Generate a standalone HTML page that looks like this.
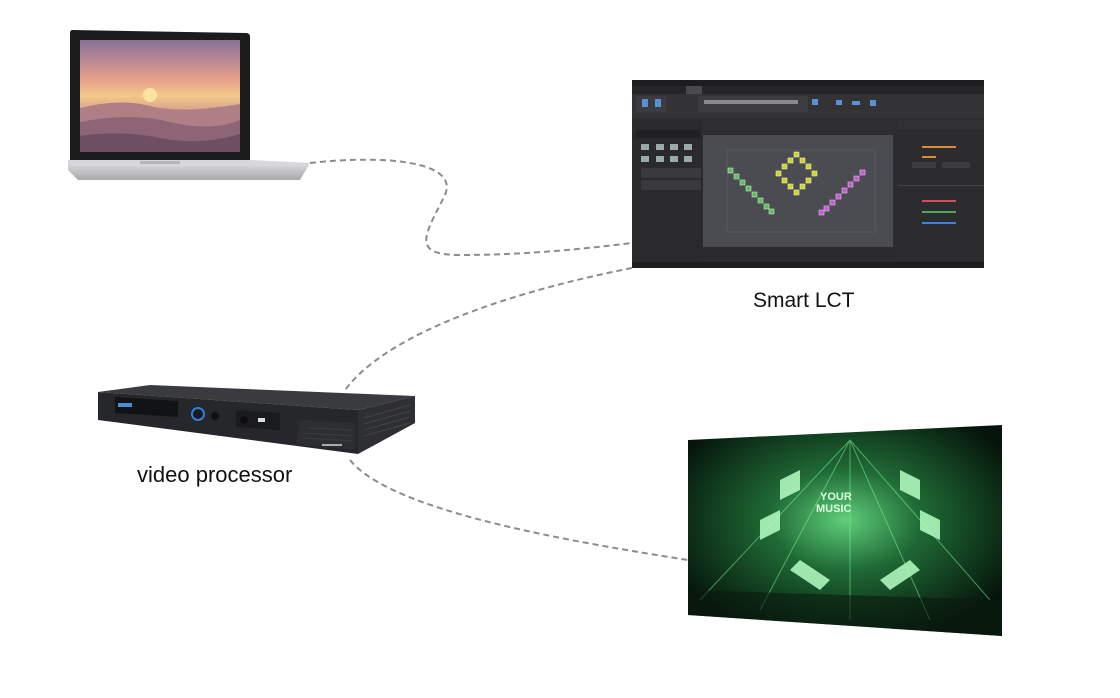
<!DOCTYPE html>
<html><head><meta charset="utf-8"><style>
html,body{margin:0;padding:0;background:#fff;width:1120px;height:698px;overflow:hidden}
svg{display:block}
text{font-family:"Liberation Sans","Noto Sans CJK SC",sans-serif}
</style></head><body>
<svg width="1120" height="698" viewBox="0 0 1120 698" xmlns="http://www.w3.org/2000/svg">
<defs>
<linearGradient id="sky" x1="0" y1="0" x2="0" y2="1">
<stop offset="0" stop-color="#8a6f9a"/><stop offset="0.35" stop-color="#e6a08a"/><stop offset="0.5" stop-color="#f4c98a"/><stop offset="0.65" stop-color="#d49a8e"/><stop offset="1" stop-color="#7a5a70"/>
</linearGradient>
<linearGradient id="base" x1="0" y1="0" x2="0" y2="1">
<stop offset="0" stop-color="#e4e4e6"/><stop offset="1" stop-color="#a8a8ac"/>
</linearGradient>
<radialGradient id="stage" cx="0.5" cy="0.45" r="0.6">
<stop offset="0" stop-color="#5fcf7a"/><stop offset="0.4" stop-color="#1f6a35"/><stop offset="1" stop-color="#06150b"/>
</radialGradient>
</defs>

<!-- dashed connectors -->
<g fill="none" stroke="#8c8c8c" stroke-width="2" stroke-dasharray="6,4">
<path d="M310,163 C380,155 460,160 445,195 C425,235 410,255 460,255 C530,255 590,248 632,243"/>
<path d="M632,268 C520,290 390,330 345,390"/>
<path d="M350,460 C390,510 560,540 688,560"/>
</g>

<!-- laptop -->
<path d="M72,30 L246,33 Q250,33 250,37 L250,160 L70,160 L70,34 Q70,30 72,30 Z" fill="#1c1c1e"/>
<rect x="80" y="40" width="160" height="112" fill="url(#sky)"/>
<circle cx="150" cy="95" r="7" fill="#fde3a0"/>
<path d="M80,108 Q120,98 150,106 T240,104 L240,152 L80,152 Z" fill="#b07f86"/>
<path d="M80,122 Q130,112 170,122 T240,120 L240,152 L80,152 Z" fill="#8d6577"/>
<path d="M80,136 Q120,130 160,138 T240,134 L240,152 L80,152 Z" fill="#6e4f62"/>
<path d="M68,160 L250,160 L310,163 L300,180 L78,180 L68,170 Z" fill="url(#base)"/>
<path d="M68,160 L250,160 L310,163 L305,166 L70,166 Z" fill="#d8d8db"/>
<rect x="140" y="161" width="40" height="3" fill="#b5b5b8"/>

<!-- software window -->
<rect x="632" y="80" width="352" height="188" fill="#2c2c2e"/>
<rect x="632" y="80" width="352" height="6" fill="#1d1d1f"/>
<rect x="632" y="86" width="352" height="8" fill="#252527"/>
<rect x="686" y="86" width="16" height="8" fill="#4a4a4e"/>
<rect x="632" y="94" width="352" height="24" fill="#333336"/>
<rect x="636" y="96" width="30" height="16" fill="#3c3c40"/>
<rect x="698" y="96" width="110" height="16" fill="#3c3c40"/>
<g fill="#5b8fd6"><rect x="642" y="99" width="6" height="8"/><rect x="655" y="99" width="6" height="8"/><rect x="812" y="99" width="6" height="6"/><rect x="836" y="100" width="6" height="5"/><rect x="852" y="101" width="8" height="4"/><rect x="870" y="100" width="6" height="6"/></g>
<g fill="#8a8a8e"><rect x="704" y="100" width="94" height="4"/></g>
<rect x="632" y="120" width="70" height="142" fill="#2a2a2c"/>
<rect x="636" y="130" width="64" height="8" fill="#202022"/>
<g fill="#9aa"><rect x="641" y="144" width="8" height="6"/><rect x="656" y="144" width="8" height="6"/><rect x="670" y="144" width="8" height="6"/><rect x="684" y="144" width="8" height="6"/><rect x="641" y="156" width="8" height="6"/><rect x="656" y="156" width="8" height="6"/><rect x="670" y="156" width="8" height="6"/><rect x="684" y="156" width="8" height="6"/></g>
<rect x="641" y="168" width="60" height="10" fill="#3a3a3d"/>
<rect x="641" y="180" width="60" height="10" fill="#3a3a3d"/>
<rect x="703" y="120" width="194" height="14" fill="#2f2f32"/>
<rect x="703" y="135" width="190" height="112" fill="#4b4c51"/>
<rect x="727" y="150" width="148" height="82" fill="none" stroke="#58595e" stroke-width="1"/>
<g fill="#5cbf5c" stroke="#bfe8bf" stroke-width="0.6">
<rect x="728" y="168" width="5" height="5"/><rect x="734" y="174" width="5" height="5"/><rect x="740" y="180" width="5" height="5"/><rect x="746" y="186" width="5" height="5"/><rect x="752" y="192" width="5" height="5"/><rect x="758" y="198" width="5" height="5"/><rect x="764" y="204" width="5" height="5"/><rect x="769" y="209" width="5" height="5"/></g>
<g fill="#c8d23a" stroke="#f0f3a0" stroke-width="0.6">
<rect x="794" y="152" width="5" height="5"/><rect x="788" y="158" width="5" height="5"/><rect x="800" y="158" width="5" height="5"/><rect x="782" y="164" width="5" height="5"/><rect x="806" y="164" width="5" height="5"/><rect x="776" y="171" width="5" height="5"/><rect x="812" y="171" width="5" height="5"/><rect x="782" y="178" width="5" height="5"/><rect x="806" y="178" width="5" height="5"/><rect x="788" y="184" width="5" height="5"/><rect x="800" y="184" width="5" height="5"/><rect x="794" y="190" width="5" height="5"/></g>
<g fill="#c25ed0" stroke="#ecb8f2" stroke-width="0.6">
<rect x="860" y="170" width="5" height="5"/><rect x="854" y="176" width="5" height="5"/><rect x="848" y="182" width="5" height="5"/><rect x="842" y="188" width="5" height="5"/><rect x="836" y="194" width="5" height="5"/><rect x="830" y="200" width="5" height="5"/><rect x="824" y="206" width="5" height="5"/><rect x="819" y="210" width="5" height="5"/></g>
<rect x="703" y="249" width="194" height="8" fill="#2a2a2c"/>
<rect x="898" y="120" width="86" height="142" fill="#2c2c2e"/>
<rect x="898" y="120" width="86" height="9" fill="#323235"/>
<rect x="922" y="146" width="34" height="2" fill="#e0883a"/><rect x="922" y="156" width="14" height="2" fill="#e0883a"/>
<rect x="912" y="162" width="24" height="6" fill="#3d3d40"/><rect x="942" y="162" width="28" height="6" fill="#3d3d40"/>
<rect x="898" y="185" width="86" height="1" fill="#444"/>
<rect x="922" y="200" width="34" height="2" fill="#d94a5a"/><rect x="922" y="211" width="34" height="2" fill="#3fae5a"/><rect x="922" y="222" width="34" height="2" fill="#3f82d9"/>
<rect x="632" y="262" width="352" height="6" fill="#1d1d1f"/>
<text x="753" y="307" font-size="21" fill="#111" font-family="Liberation Sans,sans-serif">Smart LCT</text>

<!-- video processor -->
<polygon points="98,392 150,385 415,396 358,410" fill="#3a3b3e"/>
<polygon points="98,392 358,410 358,454 98,420" fill="#26272a"/>
<polygon points="358,410 415,396 415,423 358,454" fill="#2e2f33"/>
<g stroke="#444" stroke-width="1"><line x1="364" y1="418" x2="410" y2="405"/><line x1="364" y1="424" x2="410" y2="411"/><line x1="364" y1="430" x2="410" y2="417"/><line x1="364" y1="436" x2="410" y2="423"/></g>
<polygon points="115,397 178,401 178,417 115,413" fill="#121316"/>
<rect x="118" y="403" width="14" height="4" fill="#4a8fd8"/>
<circle cx="198" cy="414" r="6" fill="#1a1a1c" stroke="#2f7fe0" stroke-width="2"/>
<circle cx="215" cy="416" r="4" fill="#111"/>
<polygon points="236,410 280,413 280,430 236,427" fill="#1a1b1d"/>
<circle cx="244" cy="420" r="4" fill="#0d0d0f"/>
<rect x="258" y="418" width="7" height="4" fill="#ddd"/>
<polygon points="300,420 355,423 355,450 296,444" fill="#2d2e31"/>
<g stroke="#3c3d40" stroke-width="1"><line x1="306" y1="428" x2="352" y2="430"/><line x1="305" y1="433" x2="352" y2="436"/><line x1="304" y1="438" x2="352" y2="441"/></g>
<rect x="322" y="444" width="20" height="2" fill="#aaa"/>
<text x="137" y="482" font-size="22" fill="#111" font-family="Liberation Sans,sans-serif">video processor</text>

<!-- stage screen -->
<polygon points="688,440 1002,425 1002,636 688,615" fill="url(#stage)"/>
<g stroke="#7dff9a" stroke-width="1" opacity="0.5">
<line x1="850" y1="440" x2="700" y2="600"/><line x1="850" y1="440" x2="990" y2="600"/><line x1="850" y1="440" x2="760" y2="610"/><line x1="850" y1="440" x2="930" y2="620"/><line x1="850" y1="440" x2="850" y2="620"/>
</g>
<g fill="#b6ffc4" opacity="0.85">
<polygon points="780,480 800,470 800,490 780,500"/><polygon points="900,470 920,480 920,500 900,490"/><polygon points="760,520 780,510 780,530 760,540"/><polygon points="920,510 940,520 940,540 920,530"/><polygon points="800,560 830,580 820,590 790,570"/><polygon points="880,580 910,560 920,570 890,590"/>
</g>
<text x="820" y="500" font-size="11" fill="#d8ffe0" font-weight="bold">YOUR</text>
<text x="816" y="512" font-size="11" fill="#d8ffe0" font-weight="bold">MUSIC</text>
<polygon points="688,590 1002,600 1002,636 688,615" fill="#0a1a0e" opacity="0.6"/>
</svg>
</body></html>
